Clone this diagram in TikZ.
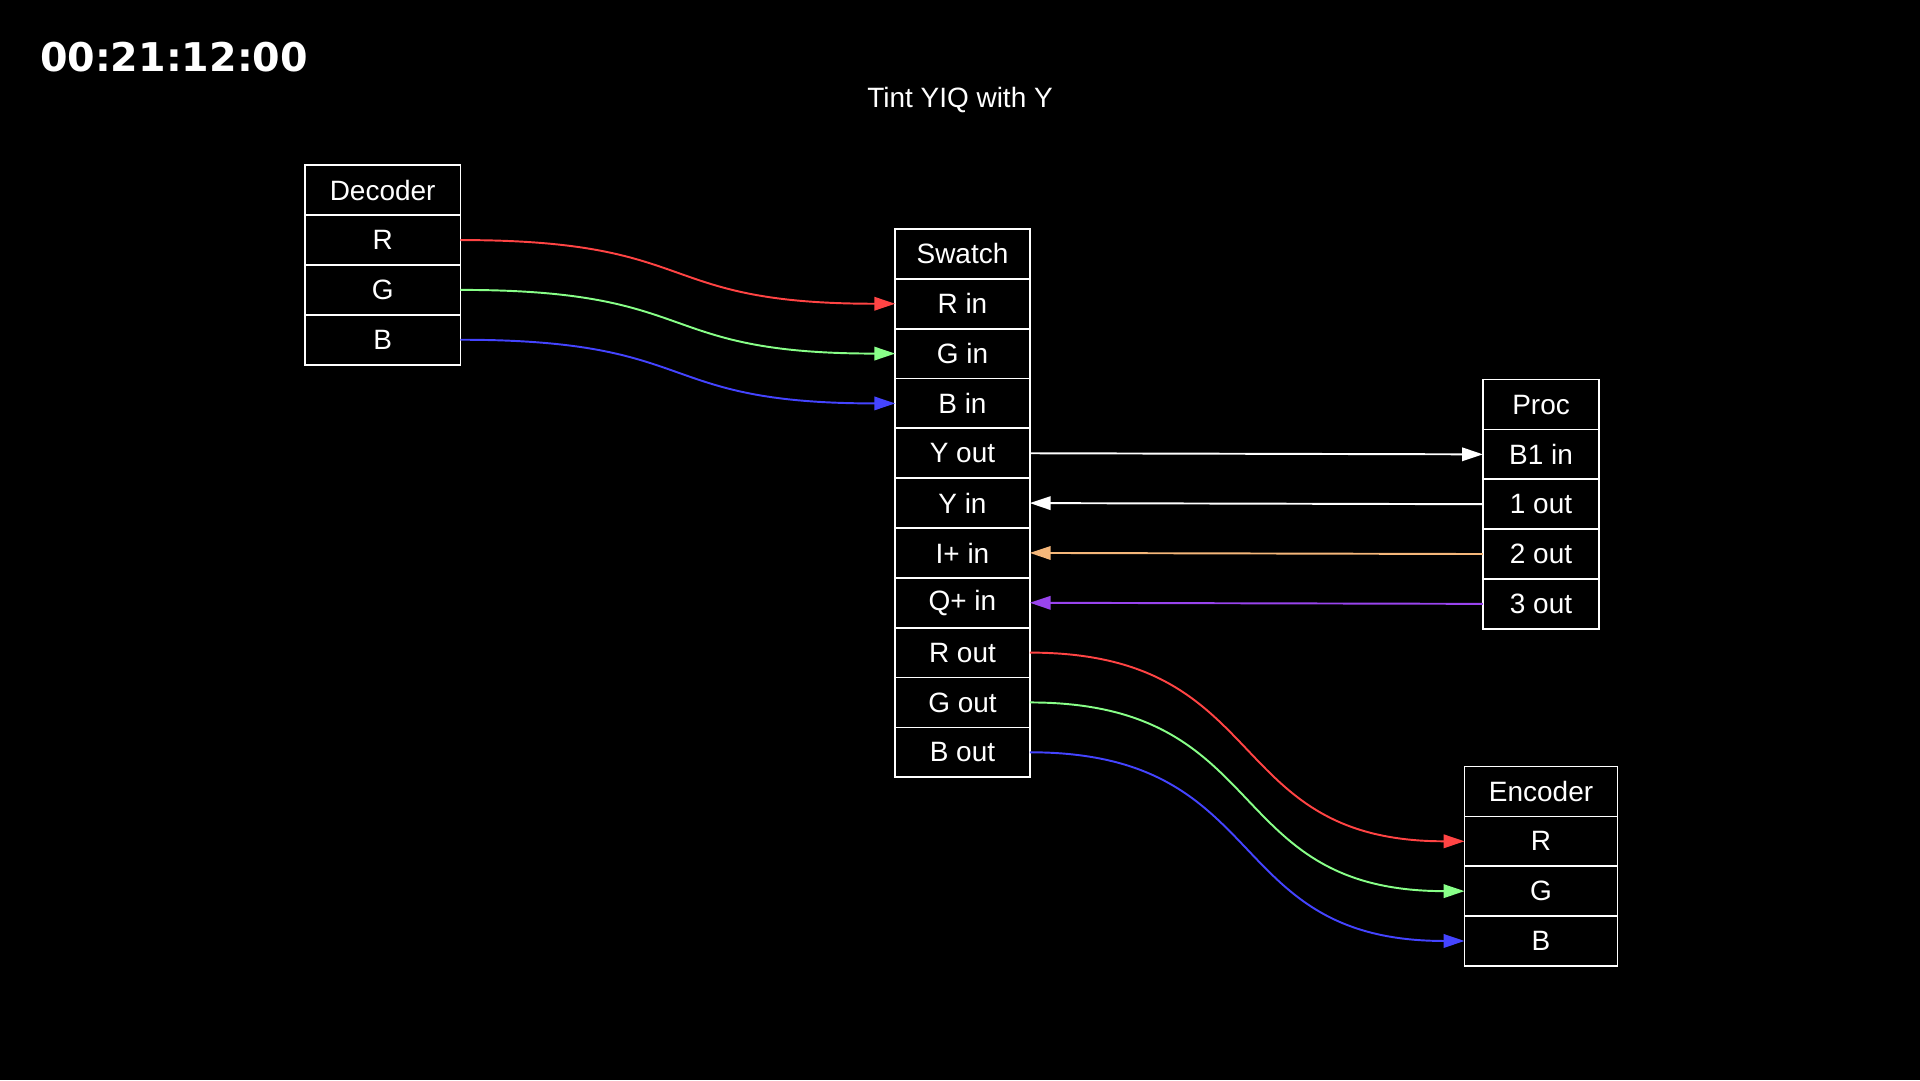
\documentclass[tikz,border=0pt]{standalone}
\usepackage{fontspec}
\setmainfont{Liberation Sans}
\newfontfamily\tcfont{DejaVu Sans}
\usetikzlibrary{positioning,arrows.meta}
\definecolor{cred}{HTML}{FF4444}
\definecolor{cgreen}{HTML}{88FF88}
\definecolor{cblue}{HTML}{4444FF}
\definecolor{corange}{HTML}{F5B77A}
\definecolor{cpurple}{HTML}{9944EE}
\tikzset{
  cell/.style={draw=white,line width=0.4pt,text=white,inner sep=0pt,outer sep=0pt,
    minimum height=0.407cm,font=\fontsize{6.5pt}{7pt}\selectfont},
  wire/.style={line width=0.45pt,-{Triangle[length=0.17cm,width=0.11cm]}}
}
\begin{document}
\begin{tikzpicture}
\fill[black](0,0)rectangle(15.68,8.82);
\useasboundingbox(0,0)rectangle(15.68,8.82);
%title and timecode
\node[text=white,inner sep=0pt,font=\tcfont\bfseries\fontsize{9.2pt}{10pt}\selectfont,anchor=west](tc)at(0.32,8.35){00:21:12:00};
\node[text=white,font=\fontsize{6.5pt}{7pt}\selectfont](title)at(7.84,8.0){Tint YIQ with Y};
%decoder
\node[cell,minimum width=1.27cm,anchor=north west](dec)at(2.49,7.47){Decoder};
\node[cell,minimum width=1.27cm,below=0pt of dec](decr){R};
\node[cell,minimum width=1.27cm,below=0pt of decr](decg){G};
\node[cell,minimum width=1.27cm,below=0pt of decg](decb){B};
%swatch
\node[cell,minimum width=1.1cm,anchor=north west](sw)at(7.31,6.95){Swatch};
\node[cell,minimum width=1.1cm,below=0pt of sw](swrin){R in};
\node[cell,minimum width=1.1cm,below=0pt of swrin](swgin){G in};
\node[cell,minimum width=1.1cm,below=0pt of swgin](swbin){B in};
\node[cell,minimum width=1.1cm,below=0pt of swbin](swyout){Y out};
\node[cell,minimum width=1.1cm,below=0pt of swyout](swyin){Y in};
\node[cell,minimum width=1.1cm,below=0pt of swyin](swiin){I+ in};
\node[cell,minimum width=1.1cm,below=0pt of swiin](swqin){Q+ in};
\node[cell,minimum width=1.1cm,below=0pt of swqin](swrout){R out};
\node[cell,minimum width=1.1cm,below=0pt of swrout](swgout){G out};
\node[cell,minimum width=1.1cm,below=0pt of swgout](swbout){B out};
%proc
\node[cell,minimum width=0.95cm,anchor=north west](proc)at(12.11,5.72){Proc};
\node[cell,minimum width=0.95cm,below=0pt of proc](prin){B1 in};
\node[cell,minimum width=0.95cm,below=0pt of prin](pro1){1 out};
\node[cell,minimum width=0.95cm,below=0pt of pro1](pro2){2 out};
\node[cell,minimum width=0.95cm,below=0pt of pro2](pro3){3 out};
%encoder
\node[cell,minimum width=1.25cm,anchor=north west](enc)at(11.96,2.56){Encoder};
\node[cell,minimum width=1.25cm,below=0pt of enc](encr){R};
\node[cell,minimum width=1.25cm,below=0pt of encr](encg){G};
\node[cell,minimum width=1.25cm,below=0pt of encg](encb){B};
%wires
\draw[wire,cred](decr.east)..controls +(2,0) and +(-2,0)..(swrin.west);
\draw[wire,cgreen](decg.east)..controls +(2,0) and +(-2,0)..(swgin.west);
\draw[wire,cblue](decb.east)..controls +(2,0) and +(-2,0)..(swbin.west);
\draw[wire,white](swyout.east)--(prin.west);
\draw[wire,white](pro1.west)--(swyin.east);
\draw[wire,corange](pro2.west)--(swiin.east);
\draw[wire,cpurple](pro3.west)--(swqin.east);
\draw[wire,cred](swrout.east)..controls +(2,0) and +(-2,0)..(encr.west);
\draw[wire,cgreen](swgout.east)..controls +(2,0) and +(-2,0)..(encg.west);
\draw[wire,cblue](swbout.east)..controls +(2,0) and +(-2,0)..(encb.west);
\end{tikzpicture}
\end{document}
